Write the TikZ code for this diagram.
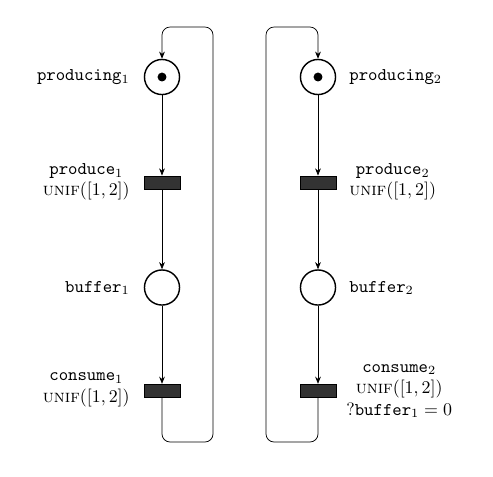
\documentclass[tikz,border=0pt]{standalone}
\usetikzlibrary{arrows.meta}
\begin{document}
\begin{tikzpicture}[x=0.5587pt,y=-0.5587pt,
  place/.style={circle,draw,line width=0.8pt,minimum size=19.6pt,inner sep=0},
  trans/.style={rectangle,draw,line width=0.4pt,fill=black!80,minimum width=20.1pt,minimum height=7.4pt,inner sep=0},
  arcx/.style={-{Stealth[length=4pt,width=3.2pt]},line width=0.4pt},
  loopx/.style={arcx,rounded corners=4.5pt},
  lbl/.style={inner sep=0,align=center},
  token/.style={circle,fill,inner sep=0,minimum size=5pt}]
\useasboundingbox (0,0) rectangle (493,476);
% left net
\node[place] (p1) at (162,77) {};
\node[token] (k1) at (p1) {};
\node[trans] (t1) at (162,182.5) {};
\node[place] (b1) at (162,287.5) {};
\node[trans] (c1) at (162,390.8) {};
% right net
\node[place] (p2) at (318,77) {};
\node[token] (k2) at (p2) {};
\node[trans] (t2) at (318,182.5) {};
\node[place] (b2) at (318,287.5) {};
\node[trans] (c2) at (318,390.8) {};
% labels
\node[lbl,anchor=east] (lp1) at (130,77) {\texttt{producing}$_1$};
\node[lbl,anchor=east] (lt1) at (130,182) {\texttt{produce}$_1$\\\textsc{unif}$([1,2])$};
\node[lbl,anchor=east] (lb1) at (130,288) {\texttt{buffer}$_1$};
\node[lbl,anchor=east] (lc1) at (130,390) {\texttt{consume}$_1$\\\textsc{unif}$([1,2])$};
\node[lbl,anchor=west] (lp2) at (349,77) {\texttt{producing}$_2$};
\node[lbl,anchor=west] (lt2) at (349,182) {\texttt{produce}$_2$\\\textsc{unif}$([1,2])$};
\node[lbl,anchor=west] (lb2) at (349,288) {\texttt{buffer}$_2$};
\node[lbl,anchor=west] (lc2) at (346,391) {\texttt{consume}$_2$\\\textsc{unif}$([1,2])$\\?\texttt{buffer}$_1=0$};
% arcs
\draw[arcx] (p1) -- (t1);
\draw[arcx] (t1) -- (b1);
\draw[arcx] (b1) -- (c1);
\draw[arcx] (p2) -- (t2);
\draw[arcx] (t2) -- (b2);
\draw[arcx] (b2) -- (c2);
% loops
\coordinate (a1) at (162,442);
\coordinate (a2) at (213,442);
\coordinate (a3) at (213,27);
\coordinate (a4) at (162,27);
\draw[loopx] (c1.south) -- (a1) -- (a2) -- (a3) -- (a4) -- (p1.north);
\coordinate (d1) at (318,442);
\coordinate (d2) at (266,442);
\coordinate (d3) at (266,27);
\coordinate (d4) at (318,27);
\draw[loopx] (c2.south) -- (d1) -- (d2) -- (d3) -- (d4) -- (p2.north);
\end{tikzpicture}
\end{document}
